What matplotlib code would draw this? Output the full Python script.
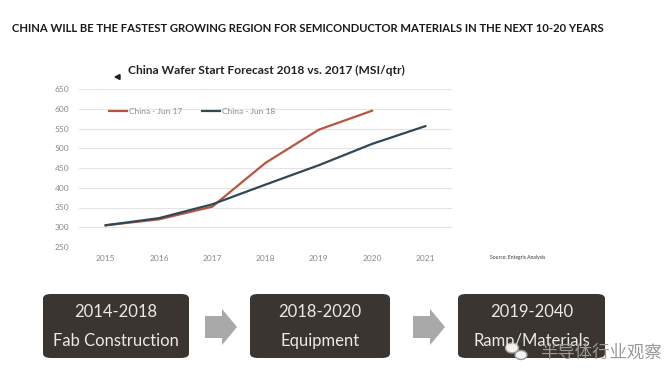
import matplotlib.pyplot as plt
from matplotlib.patches import FancyBboxPatch, Polygon, Ellipse

# data
years = [2015, 2016, 2017, 2018, 2019, 2020, 2021]
jun17_years = [2015, 2016, 2017, 2018, 2019, 2020]
jun17 = [305, 320, 352, 463, 547, 595]
jun18 = [305, 323, 358, 408, 457, 511, 556]
y_ticks = [250, 300, 350, 400, 450, 500, 550, 600, 650]

stages = ['2014-2018\nFab Construction', '2018-2020\nEquipment', '2019-2040\nRamp/Materials']

W, H = 668, 374
fig = plt.figure(figsize=(W / 100, H / 100), dpi=100)
fig.patch.set_facecolor('white')
plt.rcParams['font.family'] = ['Lato', 'DejaVu Sans']


def fit_width(t, px):
    # shrink/grow a text so it spans px pixels, like the narrow font in the slide
    r = fig.canvas.get_renderer()
    w = t.get_window_extent(r).width
    t.set_fontsize(t.get_fontsize() * px / w)


head = fig.text(12 / W, 1 - 28 / H,
                'CHINA WILL BE THE FASTEST GROWING REGION FOR SEMICONDUCTOR MATERIALS IN THE NEXT 10-20 YEARS',
                fontsize=8, fontweight='bold', color='#1a1a1a', va='center', ha='left')
fit_width(head, 593)

title = fig.text(128 / W, 1 - 70 / H, 'China Wafer Start Forecast 2018 vs. 2017 (MSI/qtr)',
                 fontsize=10, fontweight='bold', color='#222222', va='center', ha='left')
fit_width(title, 277)
fig.patches.append(Polygon([[115 / W, 1 - 77 / H], [120 / W, 1 - 74.5 / H], [120 / W, 1 - 79.5 / H]],
                           closed=True, transform=fig.transFigure, color='#222222'))

ax = fig.add_axes([79 / W, 1 - 247 / H, (452 - 79) / W, (247 - 89) / H])
ax.plot(jun17_years, jun17, color='#b9553f', lw=1.6, label='China - Jun 17')
ax.plot(years, jun18, color='#2f4858', lw=1.6, label='China - Jun 18')
ax.set_xlim(2014.5, 2021.5)
ax.set_ylim(250, 650)
ax.set_yticks(y_ticks)
ax.set_xticks(years)
ax.grid(axis='y', color='#e3e3e3', lw=0.8)
ax.set_axisbelow(True)
for s in ax.spines.values():
    s.set_visible(False)
ax.tick_params(length=0, labelsize=6, labelcolor='#8a8a8a', pad=6)
ax.tick_params(axis='y', pad=7)
ax.legend(ncol=2, loc='upper left', bbox_to_anchor=(0.06, 0.93), frameon=False,
          fontsize=6, labelcolor='#8a8a8a', handlelength=2.2, handletextpad=0.2,
          columnspacing=2.4)

fig.text(490 / W, 1 - 258 / H, 'Source: Entegris Analysis', fontsize=3.6,
         color='#333333', va='center', ha='left')

# process boxes
boxes = [(43, 189), (250, 390), (458, 605)]
top, bot = 294, 358
for (x0, x1), label in zip(boxes, stages):
    p = FancyBboxPatch((x0 / W, 1 - bot / H), (x1 - x0) / W, (bot - top) / H,
                       boxstyle='round,pad=0,rounding_size=0.012',
                       transform=fig.transFigure, facecolor='#3a3530', edgecolor='none')
    fig.patches.append(p)
    cx = (x0 + x1) / 2 / W
    l1, l2 = label.split('\n')
    fig.text(cx, 1 - 312 / H, l1, fontsize=12, color='#ece8e3', ha='center', va='center')
    fig.text(cx, 1 - 341 / H, l2, fontsize=12, color='#ece8e3', ha='center', va='center')

# arrows between boxes
for ax0 in (205, 413):
    pts = [(ax0, 316), (ax0 + 17, 316), (ax0 + 17, 309), (ax0 + 32, 327),
           (ax0 + 17, 345), (ax0 + 17, 338), (ax0, 338)]
    fig.patches.append(Polygon([(x / W, 1 - y / H) for x, y in pts], closed=True,
                               transform=fig.transFigure, facecolor='#a9a9a9', edgecolor='none'))

# watermark (wechat-style bubbles + name)
for (cx, cy, w, h) in [(512, 348, 13, 10), (521, 355, 12, 9)]:
    fig.patches.append(Ellipse((cx / W, 1 - cy / H), w / W, h / H, transform=fig.transFigure,
                               facecolor='#f2f2f2', edgecolor='#9a9a9a', lw=1.0))
fig.text(540 / W, 1 - 353 / H, '半导体行业观察', fontsize=12.5,
         family=['Noto Sans CJK SC', 'DejaVu Sans'], color='#9a9a9a', ha='left', va='center')

fig.savefig('out.png', dpi=100)
